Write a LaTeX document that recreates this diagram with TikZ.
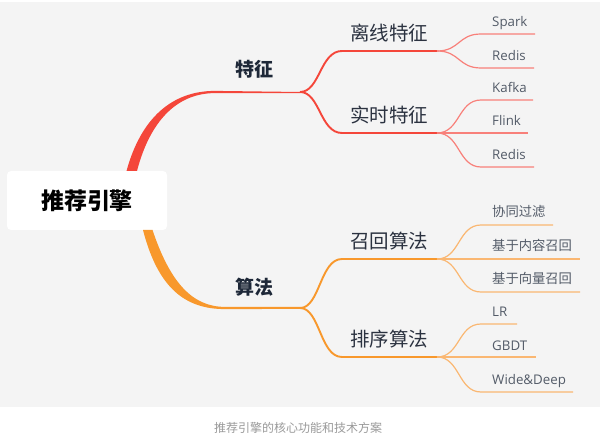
\documentclass[tikz,border=0pt]{standalone}
\usepackage{fontspec}
\setmainfont{Open Sans}
\newfontfamily\cjk{Noto Sans CJK SC}
\definecolor{bgc}{HTML}{F4F4F4}
\definecolor{redm}{HTML}{F4463A}
\definecolor{redl}{HTML}{F8807A}
\definecolor{orgm}{HTML}{F8982C}
\definecolor{orgl}{HTML}{FAB772}
\definecolor{txtmain}{HTML}{1E2838}
\definecolor{txtsub}{HTML}{2B3240}
\definecolor{txtleaf}{HTML}{535B68}
\definecolor{capc}{HTML}{9A9A9A}
\tikzset{
  mainlbl/.style={font=\cjk\bfseries\fontsize{19}{21}\selectfont, text=txtmain, anchor=base, inner sep=0pt},
  sublbl/.style={font=\cjk\fontsize{19.5}{22}\selectfont, text=txtsub, anchor=base west, inner sep=0pt},
  leaflbl/.style={font=\fontsize{13.3}{15}\selectfont, text=txtleaf, anchor=base west, inner sep=0pt},
  cjkleaf/.style={leaflbl, font=\cjk\fontsize{13.3}{15}\selectfont},
  redsub/.style={draw=redm, line width=1.9pt},
  redleaf/.style={draw=redl, line width=1.2pt},
  orgsub/.style={draw=orgm, line width=1.9pt},
  orgleaf/.style={draw=orgl, line width=1.2pt},
  rootbox/.style={fill=white, rounded corners=4pt, minimum width=160pt, minimum height=59pt, inner sep=0pt,
    font=\cjk\bfseries\fontsize{23}{26}\selectfont, text=black},
}
\begin{document}
\begin{tikzpicture}[x=1pt,y=-1pt]
\useasboundingbox (0,0) rectangle (600,443);
\fill[white] (0,0) rectangle (600,443);
\fill[bgc] (0,2) rectangle (600,407);

% root
\node[rootbox] (root) at (87,200.5) {推荐引擎};

% main branch coordinates
\coordinate (rA) at (300,92);
\coordinate (oA) at (300,308);

% main tapered branches
\fill[redm] (126.5,171) .. controls (141,118) and (172,90.9) .. (215,90.9) -- (rA) -- ++(0,1.2) -- (215,93.1) .. controls (177,93.1) and (150,121) .. (137,171) -- cycle;
\fill[orgm] (143,230) .. controls (158,288) and (185,309.1) .. (225,309.1) -- ([yshift=-0.9pt]oA) -- ([yshift=1.2pt]oA) -- (225,306.9) .. controls (192,306.9) and (170,282) .. (152.5,230) -- cycle;

\node[mainlbl] (tz) at (254,77) {特征};
\node[mainlbl] (sf) at (254,294.5) {算法};

% sub branches (features)
\coordinate (lx0) at (342,51);  \coordinate (lx) at (437,51);
\coordinate (ss0) at (342,133); \coordinate (ss) at (437,133);
\draw[redsub] (rA) .. controls (320,92) and (320,51) .. (lx0) -- (lx);
\draw[redsub] (rA) .. controls (320,92) and (320,133) .. (ss0) -- (ss);
\node[sublbl] (lxl) at (350,41) {离线特征};
\node[sublbl] (ssl) at (350,123) {实时特征};

% sub branches (algorithms)
\coordinate (zh0) at (342,259); \coordinate (zh) at (437,259);
\coordinate (px0) at (342,357); \coordinate (px) at (437,357);
\draw[orgsub] (oA) .. controls (320,308) and (320,259) .. (zh0) -- (zh);
\draw[orgsub] (oA) .. controls (320,308) and (320,357) .. (px0) -- (px);
\node[sublbl] (zhl) at (350,249) {召回算法};
\node[sublbl] (pxl) at (350,347) {排序算法};

% leaves: 离线特征
\draw[redleaf] (lx) .. controls (460,51) and (458,34) .. (481,34) -- (535,34);
\draw[redleaf] (lx) .. controls (460,51) and (458,68) .. (481,68) -- (534,68);
\node[leaflbl] (l1) at (492,27) {Spark};
\node[leaflbl] (l2) at (492,61) {Redis};

% leaves: 实时特征
\draw[redleaf] (ss) .. controls (460,133) and (458,100) .. (481,100) -- (533,100);
\draw[redleaf] (ss) -- (528,133);
\draw[redleaf] (ss) .. controls (460,133) and (458,167) .. (481,167) -- (534,167);
\node[leaflbl] (l3) at (492,93) {Kafka};
\node[leaflbl] (l4) at (492,126) {Flink};
\node[leaflbl] (l5) at (492,160) {Redis};

% leaves: 召回算法
\draw[orgleaf] (zh) .. controls (460,259) and (458,225) .. (481,225) -- (553,225);
\draw[orgleaf] (zh) -- (580,259);
\draw[orgleaf] (zh) .. controls (460,259) and (458,292) .. (481,292) -- (580,292);
\node[cjkleaf] (l6) at (492,216.5) {协同过滤};
\node[cjkleaf] (l7) at (492,250.5) {基于内容召回};
\node[cjkleaf] (l8) at (492,283.5) {基于向量召回};

% leaves: 排序算法
\draw[orgleaf] (px) .. controls (460,357) and (458,324) .. (481,324) -- (517,324);
\draw[orgleaf] (px) -- (536,357);
\draw[orgleaf] (px) .. controls (460,357) and (458,392) .. (481,392) -- (573,392);
\node[leaflbl] (l9) at (492,317) {LR};
\node[leaflbl] (l10) at (492,351) {GBDT};
\node[leaflbl] (l11) at (492,385) {Wide\&Deep};

% caption
\node[font=\cjk\fontsize{12}{14}\selectfont, text=capc, inner sep=0pt] (cap) at (298,428) {推荐引擎的核心功能和技术方案};
\end{tikzpicture}
\end{document}
